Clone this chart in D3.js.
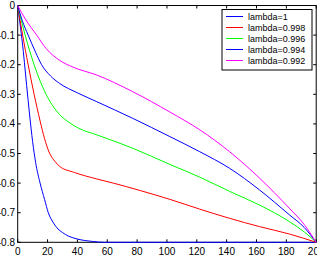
<!DOCTYPE html>
<html>
<head>
<meta charset="utf-8">
<script src="https://cdn.jsdelivr.net/npm/d3@7"></script>
<style>
  body { margin: 0; background: #fff; }
  svg { display: block; font-family: "Liberation Sans", Arial, sans-serif; }
</style>
</head>
<body>
<svg id="chart" width="317" height="259"></svg>
<script>
// values
var xTicks = [0, 20, 40, 60, 80, 100, 120, 140, 160, 180, 200];
var yTicks = [0, -0.1, -0.2, -0.3, -0.4, -0.5, -0.6, -0.7, -0.8];
var labels = ['lambda=1', 'lambda=0.998', 'lambda=0.996', 'lambda=0.994', 'lambda=0.992'];
var colors = ['#0000ff', '#ff0000', '#00ff00', '#0000ff', '#ff00ff'];

var lam1 = [[0,0],[1,-0.04],[3,-0.12],[6,-0.27],[8,-0.37],[10,-0.46],[12,-0.53],[15,-0.6],[18,-0.655],[20.5,-0.7],[24,-0.735],[27,-0.755],[30,-0.767],[34,-0.779],[40,-0.789],[45,-0.794],[50,-0.797],[58,-0.8],[200,-0.8]];
var lam998 = [[0,0],[3.3,-0.1],[7,-0.2],[11,-0.3],[15,-0.39],[18,-0.45],[21,-0.495],[25,-0.527],[28,-0.543],[38,-0.564],[53,-0.586],[64,-0.6],[82,-0.625],[102,-0.655],[122,-0.688],[142,-0.719],[162,-0.747],[182,-0.772],[200,-0.8]];
var lam996 = [[0,0],[5,-0.1],[11,-0.2],[19,-0.3],[24,-0.343],[28,-0.368],[35,-0.397],[41,-0.415],[53,-0.437],[77,-0.482],[102,-0.537],[122,-0.58],[142,-0.628],[162,-0.674],[182,-0.73],[192,-0.765],[200,-0.8]];
var lam994 = [[0,0],[3,-0.05],[7,-0.1],[12,-0.158],[16,-0.2],[22,-0.238],[28,-0.263],[40,-0.295],[53,-0.325],[77,-0.381],[102,-0.443],[122,-0.494],[142,-0.55],[162,-0.623],[182,-0.707],[192,-0.75],[200,-0.8]];
var lam992 = [[0,0],[5,-0.045],[12.7,-0.1],[19,-0.145],[28,-0.185],[37,-0.208],[53,-0.235],[77,-0.291],[102,-0.36],[122,-0.42],[142,-0.494],[162,-0.583],[182,-0.685],[192,-0.74],[200,-0.8]];
var series = [lam1, lam998, lam996, lam994, lam992];

function draw() {
  var svg = d3.select('#chart');
  var mL = 17.7, mR = 316.2, mT = 5.5, mB = 242.3;

  var x = d3.scaleLinear().domain([0, 200]).range([mL, mR]);
  var y = d3.scaleLinear().domain([-0.8, 0]).range([mB, mT]);

  // box
  svg.append('rect')
    .attr('x', mL).attr('y', mT)
    .attr('width', mR - mL).attr('height', mB - mT)
    .attr('fill', '#fff').attr('stroke', '#000').attr('stroke-width', 1);

  // inward ticks on all four sides
  var tl = 3;
  xTicks.forEach(function(t) {
    svg.append('line').attr('x1', x(t)).attr('x2', x(t)).attr('y1', mB).attr('y2', mB - tl).attr('stroke', '#000');
    svg.append('line').attr('x1', x(t)).attr('x2', x(t)).attr('y1', mT).attr('y2', mT + tl).attr('stroke', '#000');
    svg.append('text').attr('x', x(t)).attr('y', 254.5)
      .attr('text-anchor', 'middle').attr('font-size', 10).text(t);
  });
  yTicks.forEach(function(t) {
    svg.append('line').attr('x1', mL).attr('x2', mL + tl).attr('y1', y(t)).attr('y2', y(t)).attr('stroke', '#000');
    svg.append('line').attr('x1', mR).attr('x2', mR - tl).attr('y1', y(t)).attr('y2', y(t)).attr('stroke', '#000');
    svg.append('text').attr('x', 15).attr('y', y(t)).attr('dy', '0.35em')
      .attr('text-anchor', 'end').attr('font-size', 10).text(t);
  });

  var line = d3.line()
    .x(function(d) { return x(d[0]); })
    .y(function(d) { return y(d[1]); })
    .curve(d3.curveMonotoneX);

  series.forEach(function(s, i) {
    svg.append('path').attr('d', line(s))
      .attr('fill', 'none').attr('stroke', colors[i]).attr('stroke-width', 1);
  });

  // legend
  var lg = svg.append('g');
  lg.append('rect').attr('x', 222).attr('y', 9.5).attr('width', 90).attr('height', 60.5)
    .attr('fill', '#fff').attr('stroke', '#000');
  labels.forEach(function(l, i) {
    var ly = 16.5 + i * 11;
    lg.append('line').attr('x1', 226).attr('x2', 243).attr('y1', ly).attr('y2', ly)
      .attr('stroke', colors[i]);
    lg.append('text').attr('x', 248).attr('y', ly).attr('dy', '0.35em')
      .attr('font-size', 9).text(l);
  });
}
draw();
</script>
</body>
</html>
